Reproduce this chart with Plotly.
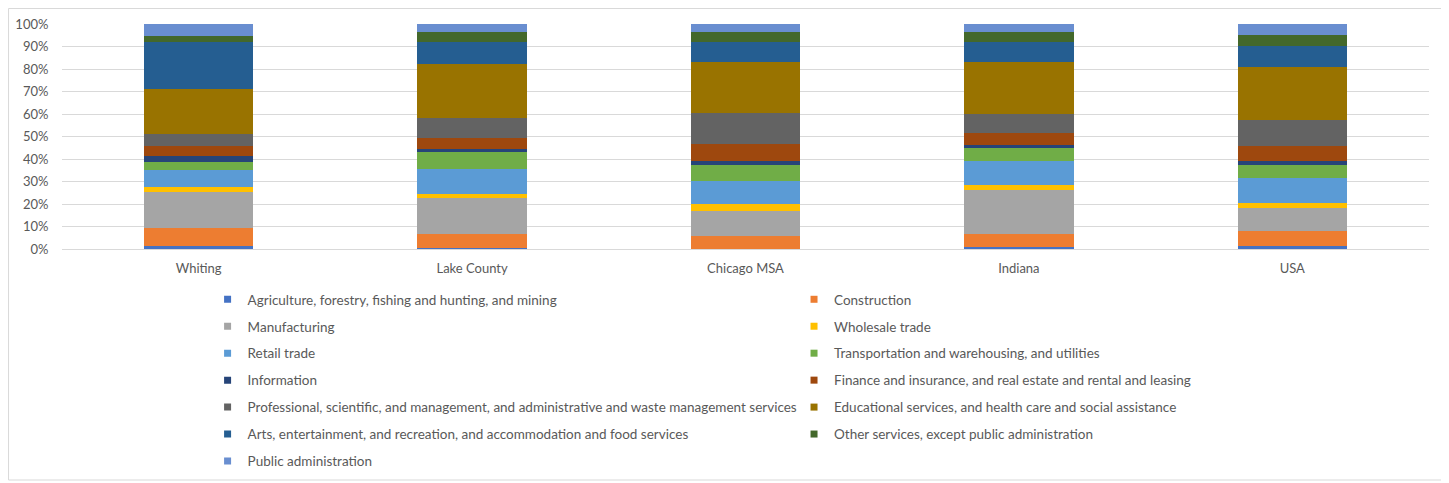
import plotly.graph_objects as go

places = ["Whiting", "Lake County", "Chicago MSA", "Indiana", "USA"]

# share of employment by industry (%)
agriculture = [1.2, 0.3, 0.2, 1.0, 1.5]
construction = [8.1, 6.5, 5.4, 5.8, 6.6]
manufacturing = [16.0, 15.7, 11.4, 19.3, 10.1]
wholesale = [2.1, 2.1, 3.1, 2.2, 2.4]
retail = [7.9, 11.0, 10.1, 11.0, 11.0]
transportation = [3.2, 7.5, 7.1, 5.7, 5.6]
information = [3.0, 1.5, 2.0, 1.2, 2.1]
finance = [4.4, 4.6, 7.5, 5.2, 6.6]
professional = [5.4, 8.9, 13.6, 8.5, 11.6]
education = [20.0, 24.1, 22.6, 23.4, 23.5]
arts = [20.7, 9.8, 9.0, 8.7, 9.2]
other_services = [2.8, 4.6, 4.6, 4.4, 4.9]
public_admin = [5.2, 3.4, 3.4, 3.6, 4.9]

series = [
    ("Agriculture, forestry, fishing and hunting, and mining", agriculture, "#4472C4", "legend"),
    ("Construction", construction, "#ED7D31", "legend2"),
    ("Manufacturing", manufacturing, "#A5A5A5", "legend"),
    ("Wholesale trade", wholesale, "#FFC000", "legend2"),
    ("Retail trade", retail, "#5B9BD5", "legend"),
    ("Transportation and warehousing, and utilities", transportation, "#70AD47", "legend2"),
    ("Information", information, "#264478", "legend"),
    ("Finance and insurance, and real estate and rental and leasing", finance, "#9E480E", "legend2"),
    ("Professional, scientific, and management, and administrative and waste management services",
     professional, "#636363", "legend"),
    ("Educational services, and health care and social assistance", education, "#997300", "legend2"),
    ("Arts, entertainment, and recreation, and accommodation and food services", arts, "#255E91", "legend"),
    ("Other services, except public administration", other_services, "#43682B", "legend2"),
    ("Public administration", public_admin, "#698ED0", "legend"),
]

FONT = "Lato"
GRAY = "#595959"

fig = go.Figure()

for name, vals, color, leg in series:
    fig.add_trace(
        go.Bar(
            x=places,
            y=[v / 100 for v in vals],
            name=name,
            marker_color=color,
            marker_line_width=0,
            legendgroup=name,
            showlegend=False,
            hovertemplate="%{x}: %{y:.1%}<extra>" + name + "</extra>",
        )
    )
    # small square legend markers, like the original
    fig.add_trace(
        go.Scatter(
            x=[None],
            y=[None],
            mode="markers",
            marker=dict(symbol="square", size=7, color=color),
            name=name,
            legendgroup=name,
            legend=leg,
        )
    )

legend_style = dict(
    orientation="v",
    xanchor="left",
    yanchor="top",
    y=-0.1556,
    tracegroupgap=6.4,
    font=dict(family=FONT, size=13.5, color=GRAY),
    bgcolor="rgba(0,0,0,0)",
)

# the page body adds an 8px margin, so the figure is sized to fit inside it
fig.update_layout(
    width=1441,
    height=475,
    margin=dict(l=54, r=20, t=16, b=234, autoexpand=False),
    barmode="stack",
    bargap=0.6,
    plot_bgcolor="white",
    paper_bgcolor="white",
    font=dict(family=FONT, size=12, color=GRAY),
    legend=dict(x=0.1065, **legend_style),
    legend2=dict(x=0.5355, **legend_style),
    xaxis=dict(
        showgrid=False,
        showline=False,
        ticks="outside",
        ticklen=7,
        tickcolor="rgba(0,0,0,0)",
        tickfont=dict(family=FONT, size=13, color=GRAY),
    ),
    yaxis=dict(
        range=[0, 1],
        dtick=0.1,
        tickformat=".0%",
        showgrid=True,
        gridcolor="#D9D9D9",
        gridwidth=1,
        zeroline=True,
        zerolinecolor="#D9D9D9",
        zerolinewidth=1,
        ticks="outside",
        ticklen=10,
        tickcolor="rgba(0,0,0,0)",
        tickfont=dict(family=FONT, size=13, color=GRAY),
    ),
    shapes=[
        dict(
            type="rect",
            xref="paper",
            yref="paper",
            x0=-0.0391,
            x1=1.0117,
            y0=-1.0267,
            y1=1.0689,
            line=dict(color="#D9D9D9", width=1),
            layer="below",
        )
    ],
)

fig.write_html("out.html")
